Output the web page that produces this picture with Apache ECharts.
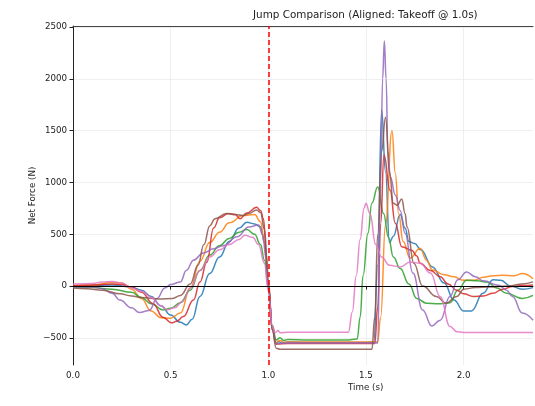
<!DOCTYPE html>
<html>
<head>
<meta charset="utf-8">
<script src="https://cdn.jsdelivr.net/npm/echarts@6/dist/echarts.min.js"></script>
<style>
  html, body { margin: 0; padding: 0; background: #fff; }
  #chart { width: 535px; height: 406px; }
</style>
</head>
<body>
<div id="chart"></div>
<script>
// axis ticks
var xTicks = [0, 0.5, 1.0, 1.5, 2.0];
var yTicks = [-500, 0, 500, 1000, 1500, 2000, 2500];

// blue
var blueT = [0, 0.1, 0.2, 0.3, 0.35, 0.4, 0.45, 0.5, 0.55, 0.58, 0.61, 0.65, 0.7, 0.75, 0.8, 0.85, 0.89, 0.93, 0.96, 0.98, 1.0, 1.02, 1.04, 1.05, 1.07, 1.1, 1.2, 1.3, 1.4, 1.5, 1.54, 1.56, 1.58, 1.6, 1.62, 1.64, 1.675, 1.7, 1.72, 1.75, 1.78, 1.84, 1.9, 1.95, 2.0, 2.04, 2.1, 2.15, 2.19, 2.24, 2.3, 2.355];
var blueF = [0, 5, 10, -10, -40, -100, -190, -280, -350, -375, -320, -100, 120, 280, 430, 560, 615, 600, 570, 420, 0, -380, -560, -535, -550, -540, -545, -545, -545, -545, -540, 200, 1700, 1100, 420, 480, 690, 560, 430, 410, 350, 185, 30, -135, -240, -240, -70, 60, 55, 0, -30, -15];

// orange
var orangeT = [0, 0.1, 0.2, 0.25, 0.3, 0.35, 0.4, 0.45, 0.5, 0.55, 0.6, 0.65, 0.7, 0.75, 0.8, 0.87, 0.93, 0.96, 0.98, 1.0, 1.02, 1.04, 1.06, 1.08, 1.1, 1.2, 1.3, 1.4, 1.5, 1.56, 1.575, 1.6, 1.633, 1.65, 1.667, 1.69, 1.726, 1.777, 1.81, 1.84, 1.9, 1.95, 2.0, 2.05, 2.1, 2.15, 2.2, 2.26, 2.3, 2.355];
var orangeF = [0, 10, 35, 30, -30, -120, -240, -305, -310, -260, -20, 240, 420, 520, 610, 680, 690, 620, 420, 0, -400, -545, -525, -545, -540, -540, -540, -540, -540, -540, -300, 600, 1500, 1090, 700, 430, 270, 366, 250, 155, 110, 90, 55, 55, 85, 100, 105, 100, 120, 70];

// green
var greenT = [0, 0.1, 0.2, 0.3, 0.35, 0.4, 0.46, 0.5, 0.55, 0.6, 0.65, 0.7, 0.75, 0.8, 0.85, 0.89, 0.93, 0.96, 0.98, 1.0, 1.02, 1.04, 1.06, 1.08, 1.1, 1.2, 1.3, 1.4, 1.455, 1.47, 1.485, 1.51, 1.53, 1.56, 1.59, 1.615, 1.64, 1.675, 1.72, 1.76, 1.81, 1.87, 1.93, 1.97, 2.015, 2.07, 2.12, 2.17, 2.22, 2.3, 2.355];
var greenF = [-10, -15, -30, -60, -110, -170, -230, -215, -160, -40, 150, 300, 390, 460, 520, 545, 500, 400, 250, 0, -380, -520, -500, -525, -515, -520, -520, -520, -510, -300, 100, 510, 800, 955, 700, 470, 280, 170, 20, -120, -165, -170, -160, -40, 55, 50, 40, -20, -70, -120, -90];

// red
var redT = [0, 0.1, 0.2, 0.25, 0.3, 0.35, 0.41, 0.46, 0.505, 0.53, 0.565, 0.617, 0.65, 0.685, 0.72, 0.75, 0.795, 0.83, 0.855, 0.89, 0.94, 0.96, 0.975, 0.99, 1.0, 1.02, 1.04, 1.1, 1.2, 1.3, 1.4, 1.5, 1.545, 1.56, 1.575, 1.592, 1.623, 1.65, 1.683, 1.734, 1.76, 1.777, 1.83, 1.88, 1.92, 1.965, 2.0, 2.05, 2.1, 2.15, 2.2, 2.25, 2.3, 2.355];
var redF = [5, 10, 20, 15, -10, -60, -170, -300, -355, -340, -295, -135, 40, 230, 560, 660, 700, 690, 650, 705, 760, 730, 650, 300, 0, -420, -560, -555, -555, -555, -555, -555, -555, -200, 600, 1265, 925, 607, 380, 345, 290, 220, 150, 90, 20, -40, -75, -100, -95, -70, -30, -5, 5, 10];

// purple
var purpleT = [0, 0.1, 0.15, 0.2, 0.24, 0.3, 0.34, 0.39, 0.43, 0.47, 0.5, 0.55, 0.58, 0.617, 0.667, 0.72, 0.77, 0.84, 0.9, 0.95, 0.97, 0.99, 1.0, 1.02, 1.04, 1.1, 1.2, 1.3, 1.4, 1.5, 1.56, 1.575, 1.585, 1.594, 1.603, 1.612, 1.625, 1.65, 1.675, 1.7, 1.74, 1.79, 1.837, 1.88, 1.93, 1.97, 2.015, 2.06, 2.1, 2.18, 2.22, 2.25, 2.3, 2.355];
var purpleF = [-10, -10, -25, -70, -135, -210, -255, -235, -120, -20, 15, 40, 150, 250, 320, 360, 390, 475, 570, 590, 500, 250, 0, -420, -555, -550, -550, -550, -550, -550, -550, 1000, 2000, 2365, 2000, 1300, 1050, 880, 730, 510, 125, -230, -385, -330, -100, 60, 135, 90, 50, 8, -40, -100, -260, -330];

// brown
var brownT = [0, 0.07, 0.15, 0.24, 0.3, 0.35, 0.44, 0.51, 0.55, 0.6, 0.64, 0.67, 0.7, 0.727, 0.785, 0.83, 0.87, 0.9, 0.94, 0.96, 0.98, 1.0, 1.02, 1.04, 1.06, 1.1, 1.2, 1.3, 1.4, 1.53, 1.545, 1.56, 1.58, 1.6, 1.62, 1.64, 1.66, 1.683, 1.7, 1.71, 1.745, 1.79, 1.86, 1.91, 1.965, 2.0, 2.06, 2.12, 2.23, 2.3, 2.355];
var brownF = [-20, -25, -40, -75, -95, -110, -125, -120, -90, 20, 200, 400, 580, 650, 700, 690, 680, 700, 735, 710, 550, 50, -420, -600, -610, -610, -610, -610, -610, -610, -300, 500, 1300, 1630, 1100, 800, 780, 840, 700, 570, 220, 0, -100, -165, -100, -30, -15, -10, 0, 20, 40];

// pink
var pinkT = [0, 0.1, 0.15, 0.2, 0.25, 0.3, 0.35, 0.4, 0.45, 0.48, 0.52, 0.56, 0.6, 0.65, 0.7, 0.75, 0.8, 0.85, 0.88, 0.92, 0.95, 0.98, 1.0, 1.02, 1.035, 1.05, 1.06, 1.1, 1.2, 1.3, 1.41, 1.43, 1.45, 1.47, 1.49, 1.5, 1.52, 1.55, 1.58, 1.62, 1.675, 1.726, 1.777, 1.83, 1.88, 1.93, 1.965, 2.0, 2.2, 2.355];
var pinkF = [20, 25, 40, 45, 30, -20, -50, -110, -190, -230, -210, -150, -20, 150, 280, 350, 400, 450, 490, 470, 400, 220, -50, -380, -450, -430, -450, -445, -445, -445, -445, -250, 100, 450, 750, 800, 700, 400, 280, 200, 185, 232, 220, 125, -103, -390, -440, -448, -448, -448];

var names = ['blue', 'orange', 'green', 'red', 'purple', 'brown', 'pink'];
var colors = ['#1f77b4', '#ff7f0e', '#2ca02c', '#d62728', '#9467bd', '#8c564b', '#e377c2'];
var times = [blueT, orangeT, greenT, redT, purpleT, brownT, pinkT];
var forces = [blueF, orangeF, greenF, redF, purpleF, brownF, pinkF];

function pairs(t, f) {
  var out = [];
  for (var i = 0; i < t.length; i++) {
    out.push([t[i], f[i]]);
  }
  return out;
}

function fmtY(v) {
  return v < 0 ? '\u2212' + Math.abs(v) : String(v);
}

var font = 'DejaVu Sans';
var series = [];
for (var i = 0; i < names.length; i++) {
  series.push({
    name: names[i],
    type: 'line',
    data: pairs(times[i], forces[i]),
    showSymbol: false,
    smooth: 0.45,
    smoothMonotone: 'x',
    lineStyle: { color: colors[i], width: 1.5, opacity: 0.85 },
    emphasis: { disabled: true }
  });
}

// reference lines: zero force and takeoff
series.push({
  name: 'refs',
  type: 'line',
  data: [],
  markLine: {
    silent: true,
    symbol: 'none',
    label: { show: false },
    data: [
      { yAxis: 0, lineStyle: { color: '#000', width: 1, type: 'solid' } },
      { xAxis: 1.0, lineStyle: { color: '#ff0000', width: 1.5, type: [5, 3] } }
    ]
  }
});

var chart = echarts.init(document.getElementById('chart'), null, { renderer: 'canvas' });
chart.setOption({
  animation: false,
  backgroundColor: '#fff',
  title: {
    text: 'Jump Comparison (Aligned: Takeoff @ 1.0s)',
    left: 253,
    top: 10,
    padding: 0,
    textStyle: { fontFamily: font, fontSize: 10.4, fontWeight: 'normal', color: '#222' }
  },
  grid: { left: 73, right: 2, top: 26, bottom: 41 },
  xAxis: [{
    type: 'value',
    min: 0,
    max: 2.355,
    axisLine: { lineStyle: { color: '#222', width: 1 } },
    axisTick: { length: 3.5, lineStyle: { color: '#222' }, customValues: xTicks },
    axisLabel: {
      customValues: xTicks, margin: 6, color: '#222', fontFamily: font, fontSize: 8.7,
      formatter: function (v) { return v.toFixed(1); }
    },
    splitLine: { show: true, lineStyle: { color: '#ebebeb', width: 0.8 } }
  }, {
    type: 'value',
    position: 'top',
    min: 0,
    max: 2.355,
    axisLine: { show: true, lineStyle: { color: '#444', width: 1 } },
    axisTick: { show: false },
    axisLabel: { show: false },
    splitLine: { show: false }
  }],
  yAxis: {
    type: 'value',
    min: -762,
    max: 2510,
    axisLine: { show: true, lineStyle: { color: '#222', width: 1 } },
    axisTick: { show: true, length: 3.5, lineStyle: { color: '#222' }, customValues: yTicks },
    axisLabel: {
      customValues: yTicks, margin: 6, color: '#222', fontFamily: font, fontSize: 8.7,
      formatter: fmtY
    },
    splitLine: { show: true, lineStyle: { color: '#ebebeb', width: 0.8 } },
    name: 'Net Force (N)',
    nameLocation: 'middle',
    nameGap: 36,
    nameMoveOverlap: false,
    nameTextStyle: { fontFamily: font, fontSize: 8.7, color: '#222' }
  },
  graphic: [{
    type: 'text',
    left: 348,
    top: 383,
    style: { text: 'Time (s)', fill: '#222', font: '8.7px "DejaVu Sans"' }
  }],
  series: series
});
</script>
</body>
</html>
